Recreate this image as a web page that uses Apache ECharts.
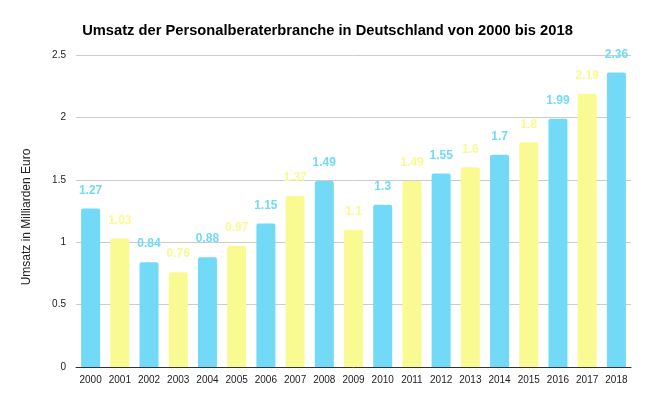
<!DOCTYPE html>
<html><head><meta charset="utf-8">
<script src="https://cdn.jsdelivr.net/npm/echarts@6/dist/echarts.min.js"></script>
<style>html,body{margin:0;padding:0;background:#fff}#c{width:655px;height:403px}</style>
</head><body><div id="c"></div>
<script>
const years = ['2000','2001','2002','2003','2004','2005','2006','2007','2008','2009','2010','2011','2012','2013','2014','2015','2016','2017','2018'];
const values = [1.27,1.03,0.84,0.76,0.88,0.97,1.15,1.37,1.49,1.1,1.3,1.49,1.55,1.6,1.7,1.8,1.99,2.19,2.36];
const yTicks = [0,0.5,1,1.5,2,2.5];
const blue = '#72daf6', yellow = '#fafa92';
const chart = echarts.init(document.getElementById('c'));
chart.setOption({
  animation:false,
  title:{text:'Umsatz der Personalberaterbranche in Deutschland von 2000 bis 2018',left:'center',top:18,
    textStyle:{fontFamily:'Liberation Sans, Arial',fontSize:14.7,fontWeight:'bold',color:'#000'}},
  grid:{left:76,right:24,top:55,bottom:36},
  xAxis:{type:'category',data:years,
    axisLine:{lineStyle:{color:'#333',width:1}},axisTick:{show:false},
    axisLabel:{fontFamily:'Liberation Sans, Arial',fontSize:10,color:'#222',margin:8}},
  yAxis:{type:'value',min:0,max:2.5,interval:0.5,
    name:'Umsatz in Milliarden Euro',nameLocation:'middle',nameGap:43,
    nameTextStyle:{fontFamily:'Liberation Sans, Arial',fontSize:12,color:'#222',padding:[0,12,0,0]},
    axisLabel:{fontFamily:'Liberation Sans, Arial',fontSize:10,color:'#222',margin:10,
      formatter:v=>yTicks.includes(v)?String(v):''},
    splitLine:{lineStyle:{color:'#cccccc'}}},
  series:[{type:'bar',barWidth:'65%',
    data:values.map((v,i)=>({value:v,itemStyle:{color:i%2?yellow:blue},label:{color:i%2?yellow:blue}})),
    itemStyle:{borderRadius:[2,2,0,0]},
    label:{show:true,position:'top',distance:12,fontFamily:'Liberation Sans, Arial',fontSize:12,fontWeight:'bold'}}]
});
</script></body></html>
